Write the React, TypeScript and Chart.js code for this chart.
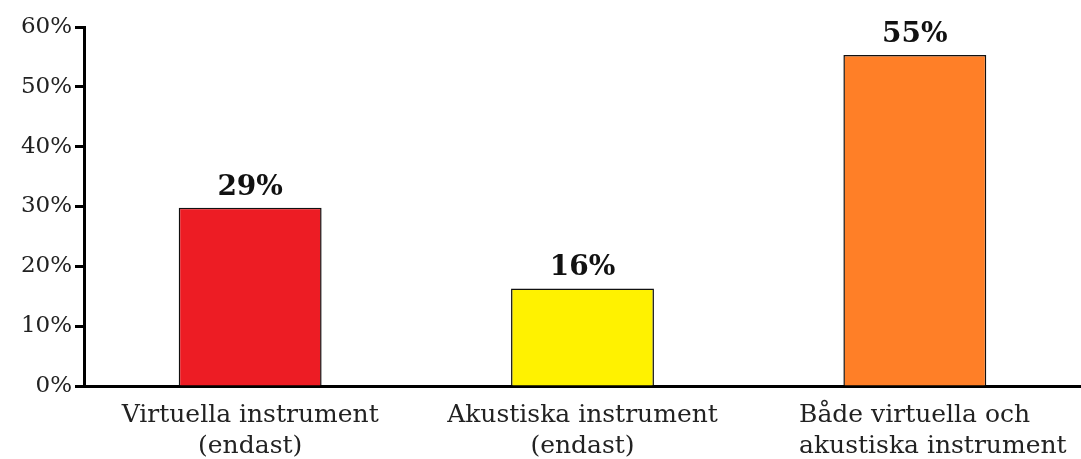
import React, { useEffect, useRef } from "react";
import { Chart, registerables } from "chart.js";

Chart.register(...registerables);

const categories: string[][] = [
  ["Virtuella instrument", "(endast)"],
  ["Akustiska instrument", "(endast)"],
  ["Både virtuella och", "akustiska instrument"],
];
const values: number[] = [29.8, 16.3, 55.3];
const valueLabels: string[] = ["29%", "16%", "55%"];
const barColors: string[] = ["#ED1C24", "#FFF200", "#FF7F27"];
const labelAlign: ("center" | "left")[] = ["center", "center", "left"];

const FONT = "'DejaVu Serif', Georgia, serif";

const valueLabelPlugin = {
  id: "valueLabels",
  afterDatasetsDraw(chart: any) {
    const ctx = chart.ctx;
    const meta = chart.getDatasetMeta(0);
    ctx.save();
    ctx.font = `bold 28px ${FONT}`;
    ctx.fillStyle = "#111";
    ctx.textAlign = "center";
    ctx.textBaseline = "alphabetic";
    meta.data.forEach((bar: any, i: number) => {
      ctx.fillText(valueLabels[i], bar.x, bar.y - 13);
    });
    ctx.restore();
  },
};

const xLabelPlugin = {
  id: "xLabels",
  afterDraw(chart: any) {
    const ctx = chart.ctx;
    const xs = chart.scales.x;
    const bottom = chart.chartArea.bottom;
    ctx.save();
    ctx.font = `25px ${FONT}`;
    ctx.fillStyle = "#222";
    ctx.textBaseline = "alphabetic";
    categories.forEach((lines, i) => {
      const cx = xs.getPixelForValue(i);
      if (labelAlign[i] === "left") {
        const w = Math.max(...lines.map((l) => ctx.measureText(l).width));
        ctx.textAlign = "left";
        const left = Math.min(cx - w / 2 + 18, 1078 - w);
        lines.forEach((l, j) => ctx.fillText(l, left, bottom + 36 + j * 31));
      } else {
        ctx.textAlign = "center";
        lines.forEach((l, j) => ctx.fillText(l, cx, bottom + 36 + j * 31));
      }
    });
    ctx.restore();
  },
};

export default function App() {
  const ref = useRef<HTMLCanvasElement | null>(null);
  useEffect(() => {
    document.body.style.margin = "0";
    const chart = new Chart(ref.current!, {
      type: "bar",
      data: {
        labels: categories.map((c) => c.join(" ")),
        datasets: [
          {
            data: values,
            backgroundColor: barColors,
            borderColor: "#111",
            borderWidth: 1.5,
            barPercentage: 0.43,
            categoryPercentage: 1,
          },
        ],
      },
      options: {
        responsive: false,
        animation: false,
        layout: { padding: { top: 27, left: 0, right: 0, bottom: 0 } },
        plugins: { legend: { display: false }, tooltip: { enabled: false } },
        scales: {
          x: {
            grid: { display: false },
            border: { display: true, color: "#000", width: 3 },
            ticks: { display: false },
            afterFit: (s: any) => {
              s.height = 73;
            },
          },
          y: {
            min: 0,
            max: 60,
            ticks: {
              stepSize: 10,
              padding: 3,
              color: "#222",
              font: { family: FONT, size: 23 },
              callback: (v: any) => `${v}%`,
            },
            grid: {
              display: true,
              drawOnChartArea: false,
              drawTicks: true,
              tickLength: 9,
              tickWidth: 3,
              tickColor: "#000",
            },
            border: { display: true, color: "#000", width: 3 },
            afterFit: (s: any) => {
              s.width = 84;
            },
          },
        },
      },
      plugins: [valueLabelPlugin, xLabelPlugin],
    });
    return () => chart.destroy();
  }, []);
  return <canvas ref={ref} width={1081} height={459} style={{ display: "block" }} />;
}
